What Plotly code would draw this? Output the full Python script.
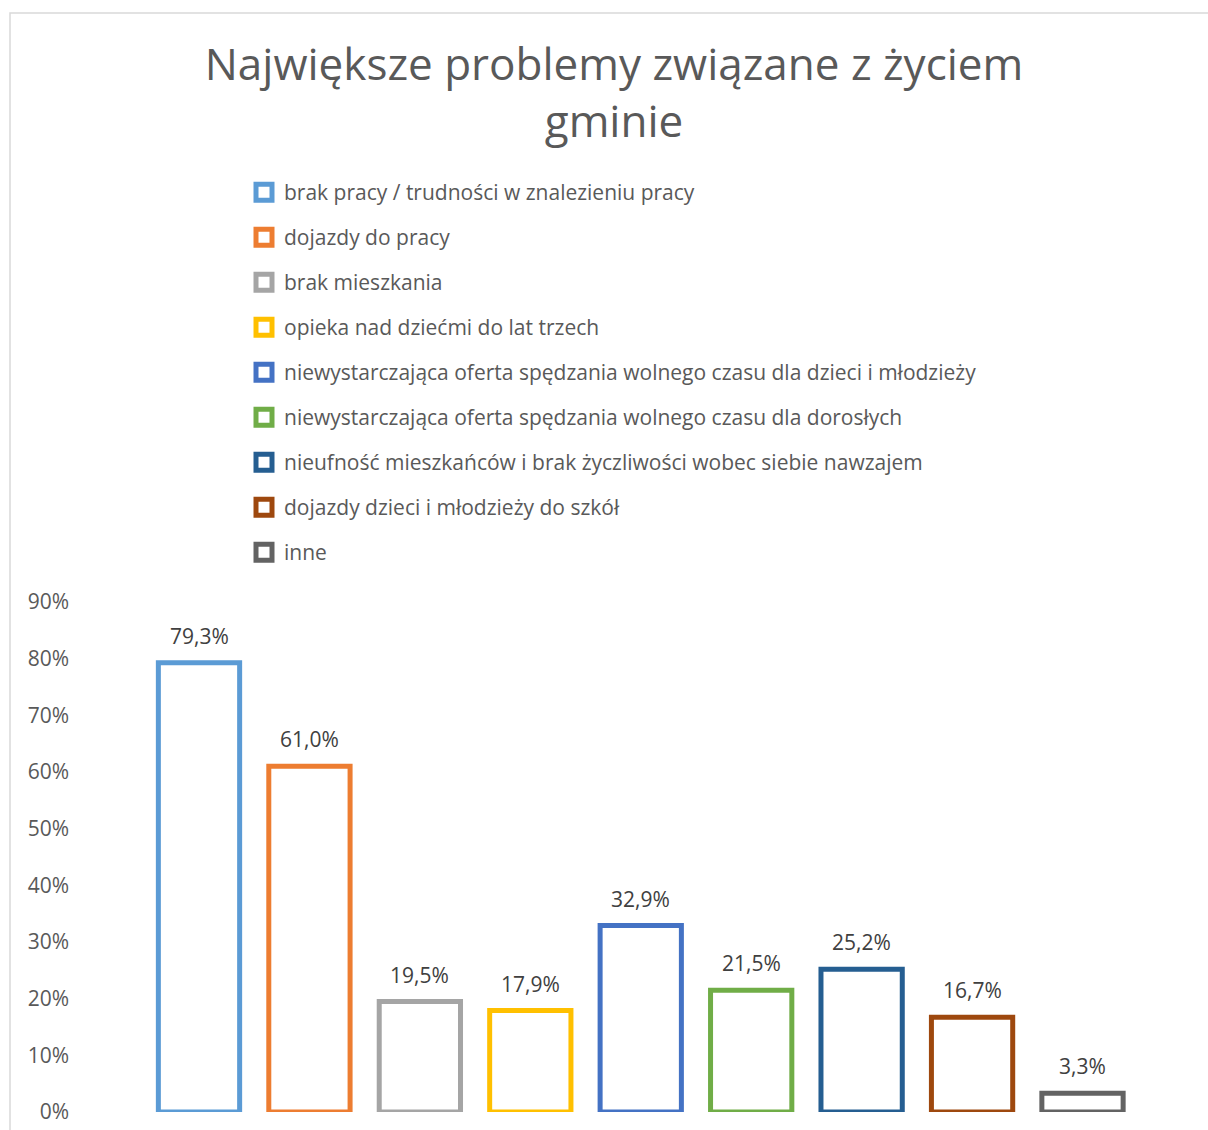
import plotly.graph_objects as go

categories = [
    "brak pracy / trudności w znalezieniu pracy",
    "dojazdy do pracy",
    "brak mieszkania",
    "opieka nad dziećmi do lat trzech",
    "niewystarczająca oferta spędzania wolnego czasu dla dzieci i młodzieży",
    "niewystarczająca oferta spędzania wolnego czasu dla dorosłych",
    "nieufność mieszkańców i brak życzliwości wobec siebie nawzajem",
    "dojazdy dzieci i młodzieży do szkół",
    "inne",
]
values = [0.793, 0.610, 0.195, 0.179, 0.329, 0.215, 0.252, 0.167, 0.033]
colors = ["#5B9BD5", "#ED7D31", "#A5A5A5", "#FFC000", "#4472C4",
          "#70AD47", "#255E91", "#9E480E", "#636363"]
tick_vals = [0, 0.1, 0.2, 0.3, 0.4, 0.5, 0.6, 0.7, 0.8, 0.9]

W, H = 1208, 1130
L, R = 70, 1190
TOP, BOT = 602, 1112
unit = 110.44
x0 = -(199 - L) / unit
x1 = 8 + (R - 1082.5) / unit
FONT = "Open Sans"

fig = go.Figure()
for i, (c, v, col) in enumerate(zip(categories, values, colors)):
    fig.add_trace(go.Bar(
        x=[i], y=[v], name=c, width=0.736,
        marker=dict(color="white", line=dict(color=col, width=5)),
        showlegend=False,
        hoverinfo="skip",
    ))
    # legend proxy (no data drawn)
    fig.add_trace(go.Scatter(
        x=[None], y=[None], name=c, mode="markers",
        marker=dict(symbol="square", size=16, color="white",
                    line=dict(color=col, width=5)),
        legendgroup=f"g{i}", showlegend=True,
    ))
    fig.add_annotation(
        x=i, y=v, text=f"{v*100:.1f}%".replace(".", ","),
        showarrow=False, yanchor="bottom", yshift=11,
        font=dict(family=FONT, size=21, color="#404040"),
    )

def px_to_paper_x(px):
    return (px - L) / (R - L)

def px_to_paper_y(py):
    return (BOT - py) / (BOT - TOP)

fig.add_shape(type="rect", xref="paper", yref="paper",
              x0=px_to_paper_x(10), x1=px_to_paper_x(1240),
              y0=px_to_paper_y(1160), y1=px_to_paper_y(13),
              line=dict(color="#D9D9D9", width=1.5), fillcolor="rgba(0,0,0,0)",
              layer="below")

fig.update_layout(
    width=W, height=H,
    margin=dict(l=L, r=W - R, t=TOP, b=H - BOT, autoexpand=False),
    paper_bgcolor="white", plot_bgcolor="white",
    barmode="overlay",
    separators=", ",
    title=dict(
        text="Największe problemy związane z życiem<br>gminie",
        x=614 / W, xanchor="center", xref="container",
        y=1 - 80 / H, yanchor="top", yref="container",
        font=dict(family=FONT, size=44, color="#595959"),
    ),
    legend=dict(
        xref="container", yref="container",
        x=244 / W, xanchor="left",
        y=1 - 172 / H, yanchor="top",
        font=dict(family=FONT, size=21, color="#595959"),
        tracegroupgap=14.7,
        bgcolor="rgba(0,0,0,0)",
        traceorder="grouped",
        itemsizing="trace",
    ),
    xaxis=dict(range=[x0, x1], showticklabels=False, showgrid=False,
               zeroline=False, showline=False, ticks=""),
    yaxis=dict(range=[0, 0.9], tickvals=tick_vals, tickformat=".0%",
               showgrid=False, zeroline=False, showline=False,
               tickfont=dict(family=FONT, size=21, color="#595959")),
    showlegend=True,
)

fig.write_html("out.html", config={"displayModeBar": False},
               post_script="document.body.style.margin='0px';")
